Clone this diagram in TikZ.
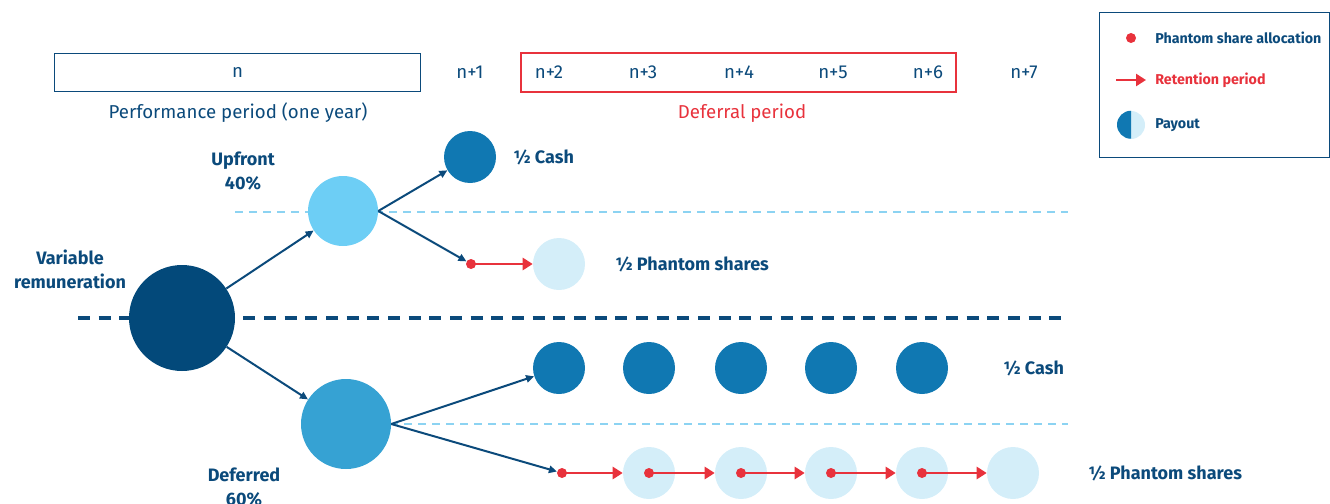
\documentclass[tikz,border=0pt]{standalone}
\usepackage{fontspec}
\setmainfont{Fira Sans}
\usetikzlibrary{arrows.meta}

\definecolor{navy}{HTML}{0B4A7B}
\definecolor{bigblue}{HTML}{03497A}
\definecolor{cashblue}{HTML}{1078B2}
\definecolor{upblue}{HTML}{6DCEF5}
\definecolor{defblue}{HTML}{36A2D3}
\definecolor{paleblue}{HTML}{D4EEF9}
\definecolor{alertred}{HTML}{E8323C}
\definecolor{dashblue}{HTML}{8CD3F2}

\begin{document}
\begin{tikzpicture}[x=0.75pt,y=-0.75pt,
  disc/.style={circle,inner sep=0pt,minimum size=#1},
  dot/.style={circle,fill=alertred,inner sep=0pt,minimum size=7.5pt},
  yearlbl/.style={text=navy,font=\fontsize{14}{16}\selectfont},
  boldlbl/.style={text=navy,font=\fontsize{13.5}{18}\selectfont\bfseries,align=center},
  keylbl/.style={text=navy,anchor=west,inner sep=0pt,font=\fontsize{10.7}{13}\selectfont\bfseries},
  flow/.style={draw=navy,line width=1.5pt,-{Triangle[length=6pt,width=5.5pt]}},
  hold/.style={draw=alertred,line width=2pt,-{Triangle[length=7.5pt,width=9pt]}},
  midline/.style={draw=navy,line width=3pt,dash pattern=on 9pt off 6.5pt},
  splitline/.style={draw=dashblue,line width=0.8pt,dash pattern=on 6pt off 4.5pt}]
\useasboundingbox (0,0) rectangle (1330,503);
% time line
\node[draw=navy,line width=0.9pt,minimum width=275pt,minimum height=29pt,yearlbl] (yrn) at (237.5,72.5) {n};
\draw[alertred,line width=0.9pt] (521,53) rectangle (956,92);
\foreach \t/\x in {1/470,2/549,3/643,4/739,5/833,6/928,7/1024}
  \node[yearlbl] (yr\t) at (\x,72.5) {n+\t};
\node[text=navy,font=\fontsize{14}{16}\selectfont] (perf) at (238,113) {Performance period (one year)};
\node[text=alertred,font=\fontsize{14}{16}\selectfont] (defp) at (742,113) {Deferral period};
% legend
\draw[navy,line width=0.9pt] (1099.5,12.5) rectangle (1329.5,157.5);
\node[dot] (kdot) at (1131,38) {};
\node[keylbl] (kdottxt) at (1155,38) {Phantom share allocation};
\coordinate (ka) at (1116,80);
\coordinate (kb) at (1146,80);
\draw[hold] (ka) -- (kb);
\node[keylbl,text=alertred] (karrtxt) at (1155,80) {Retention period};
\node[disc=21pt,fill=paleblue] (kpay) at (1131,125) {};
\fill[cashblue] (kpay.north) arc[start angle=90,end angle=270,radius=10.5pt] -- cycle;
\node[keylbl] (kpaytxt) at (1155,125) {Payout};
% dashed separators
\draw[splitline] (235,212) -- (1068,212);
\draw[splitline] (390,424) -- (1068,424);
\draw[midline] (78,318) -- (1068,318);
% main split
\node[disc=79.5pt,fill=bigblue] (var) at (182,318) {};
\node[boldlbl] (vartxt) at (70,269) {Variable\\remuneration};
\node[disc=52.5pt,fill=upblue] (up) at (343,211) {};
\node[boldlbl] (uptxt) at (243,171) {Upfront\\40\%};
\node[disc=67.5pt,fill=defblue] (defr) at (346,424) {};
\node[boldlbl] (deftxt) at (244,487) {Deferred\\60\%};
\draw[flow] (var) -- (up);
\draw[flow] (var) -- (defr);
% upfront part
\node[disc=39pt,fill=cashblue] (ucash) at (470,157) {};
\node[dot] (udot) at (471,264) {};
\node[disc=39pt,fill=paleblue] (ushare) at (559,264) {};
\draw[flow] (up.east) -- (ucash);
\draw[flow] (up.east) -- (udot);
\draw[hold] (udot.center) -- (ushare.west);
\node[boldlbl,anchor=west,inner sep=0pt] (ucashtxt) at (513,157) {½ Cash};
\node[boldlbl,anchor=west,inner sep=0pt] (usharetxt) at (615,264) {½ Phantom shares};
% deferred part
\foreach \k/\x in {1/559,2/649,3/741,4/831,5/922}
  \node[disc=39pt,fill=cashblue] (c\k) at (\x,368) {};
\foreach \k/\x in {1/649,2/741,3/831,4/922,5/1013}
  \node[disc=39pt,fill=paleblue] (p\k) at (\x,473) {};
\node[dot] (d0) at (562,473) {};
\foreach \k in {1,...,4}
  \node[dot] (d\k) at (p\k) {};
\foreach \k [count=\n from 1] in {0,...,4}
  \draw[hold] (d\k.center) -- (p\n.west);
\draw[flow] (defr.east) -- (c1);
\draw[flow] (defr.east) -- (d0);
\node[boldlbl,anchor=west,inner sep=0pt] (dcashtxt) at (1003,368) {½ Cash};
\node[boldlbl,anchor=west,inner sep=0pt] (dsharetxt) at (1088,473) {½ Phantom shares};
\end{tikzpicture}
\end{document}
